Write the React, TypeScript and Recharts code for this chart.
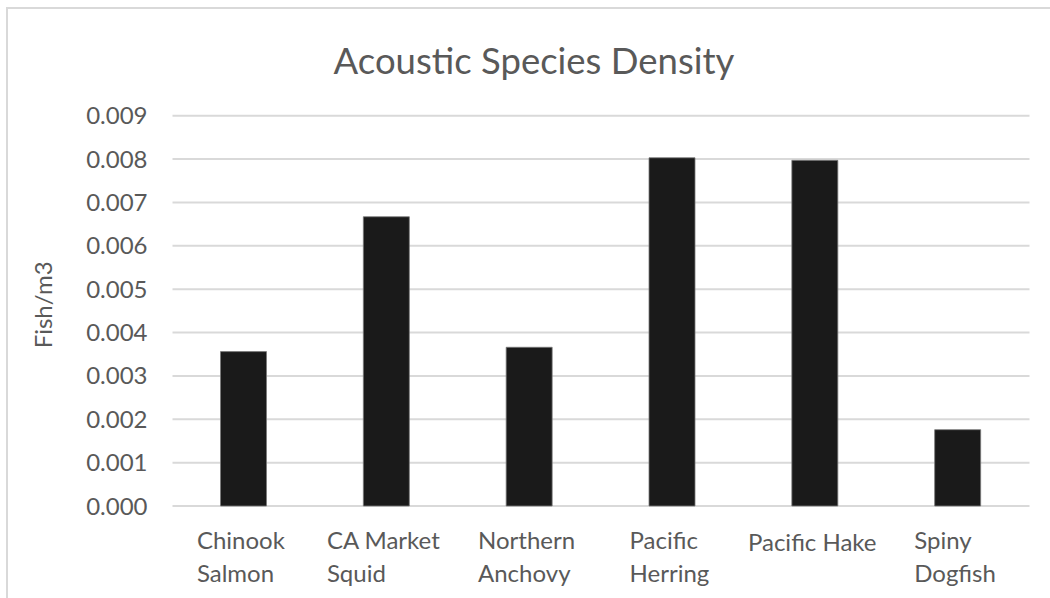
import { BarChart, Bar, XAxis, YAxis, CartesianGrid } from 'recharts';

const species = [
  'Chinook Salmon',
  'CA Market Squid',
  'Northern Anchovy',
  'Pacific Herring',
  'Pacific Hake',
  'Spiny Dogfish',
];

// wrapped category labels, one entry per line
const speciesLines = [
  ['Chinook', 'Salmon'],
  ['CA Market', 'Squid'],
  ['Northern', 'Anchovy'],
  ['Pacific', 'Herring'],
  ['Pacific Hake'],
  ['Spiny', 'Dogfish'],
];

const density = [0.00356, 0.00667, 0.00366, 0.00803, 0.00797, 0.00176];

const yTicks = [0, 0.001, 0.002, 0.003, 0.004, 0.005, 0.006, 0.007, 0.008, 0.009];

const data = species.map((name, i) => ({ name, value: density[i] }));

const FONT = 'Lato, "Noto Sans", sans-serif';
const TEXT = '#595959';
const GRID = '#d9d9d9';

let measureCtx: CanvasRenderingContext2D | null = null;
const textWidth = (s: string, size: number) => {
  if (!measureCtx) measureCtx = document.createElement('canvas').getContext('2d');
  if (!measureCtx) return s.length * size * 0.5;
  measureCtx.font = `${size}px Lato`;
  return measureCtx.measureText(s).width;
};

const SpeciesTick = ({ x, y, index }: any) => {
  const lines = speciesLines[index] || [];
  const size = 24;
  const w = Math.max(...lines.map((l) => textWidth(l, size)));
  const left = x - w / 2 - 3;
  const first = lines.length === 1 ? 45 : 43;
  return (
    <g>
      {lines.map((l, i) => (
        <text key={l} x={left} y={y + first + i * 33} fill={TEXT} fontSize={size} fontFamily={FONT}>
          {l}
        </text>
      ))}
    </g>
  );
};

const AxisTitle = ({ viewBox }: any) => {
  const cx = viewBox.x + 43;
  const cy = viewBox.y + viewBox.height / 2 - 6;
  return (
    <text
      x={cx}
      y={cy}
      transform={`rotate(-90 ${cx} ${cy})`}
      textAnchor="middle"
      dominantBaseline="central"
      fill={TEXT}
      fontSize={24}
      fontFamily={FONT}
    >
      Fish/m3
    </text>
  );
};

export default function App() {
  return (
    <div
      style={{
        position: 'absolute',
        left: 0,
        top: 0,
        width: 1050,
        height: 598,
        overflow: 'hidden',
        background: '#fff',
      }}
    >
      <div
        style={{
          position: 'absolute',
          left: 534,
          top: 39,
          transform: 'translateX(-50%)',
          whiteSpace: 'nowrap',
          fontFamily: FONT,
          fontSize: 36.5,
          color: TEXT,
          lineHeight: '42px',
        }}
      >
        Acoustic Species Density
      </div>
      <div style={{ position: 'absolute', left: 0, top: 0 }}>
        <BarChart width={1050} height={598} data={data} margin={{ top: 115.7, right: 20.5, bottom: 0, left: 0 }}>
          <CartesianGrid vertical={false} stroke={GRID} strokeWidth={2} />
          <XAxis
            dataKey="name"
            height={92}
            axisLine={false}
            tickLine={false}
            tickSize={0}
            tickMargin={0}
            interval={0}
            tick={<SpeciesTick />}
          />
          <YAxis
            width={172.5}
            domain={[0, 0.009]}
            ticks={yTicks}
            axisLine={false}
            tickLine={false}
            tickSize={0}
            tickMargin={25}
            tickFormatter={(v: number) => v.toFixed(3)}
            tick={{ fill: TEXT, fontSize: 24, fontFamily: FONT }}
            label={<AxisTitle />}
          />
          <Bar dataKey="value" fill="#1a1a1a" stroke="#7a7a7a" strokeWidth={0.8} barSize={46} isAnimationActive={false} />
        </BarChart>
      </div>
      {/* chart frame: only the top and left edges fall inside the view */}
      <div
        style={{
          position: 'absolute',
          left: 6,
          top: 7,
          right: 0,
          bottom: 0,
          borderTop: `2px solid ${GRID}`,
          borderLeft: `2px solid ${GRID}`,
          pointerEvents: 'none',
        }}
      />
    </div>
  );
}
